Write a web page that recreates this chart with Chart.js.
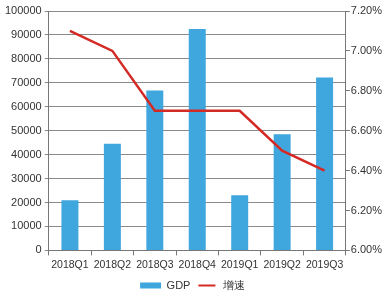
<!DOCTYPE html>
<html>
<head>
<meta charset="utf-8">
<script src="https://cdn.jsdelivr.net/npm/chart.js@4"></script>
<style>
  html, body { margin: 0; padding: 0; background: #fff; }
</style>
</head>
<body>
<canvas id="chart" width="389" height="301"></canvas>
<script>
var quarters = ["2018Q1", "2018Q2", "2018Q3", "2018Q4", "2019Q1", "2019Q2", "2019Q3"];
var gdp = [21000, 44500, 66800, 92500, 23000, 48500, 72200];
var growth = [7.1, 7.0, 6.7, 6.7, 6.7, 6.5, 6.4];

Chart.defaults.font.family = "'Liberation Sans', Arial, sans-serif";
Chart.defaults.font.size = 11;
Chart.defaults.color = "#333";

new Chart("chart", {
  data: {
    labels: quarters,
    datasets: [{
      type: "line",
      label: "增速",
      data: growth,
      yAxisID: "y2",
      borderColor: "#d42a25",
      backgroundColor: "#d42a25",
      borderWidth: 2.5,
      pointRadius: 0,
      tension: 0,
      order: 0
    }, {
      type: "bar",
      label: "GDP",
      data: gdp,
      yAxisID: "y",
      backgroundColor: "#40a6de",
      barPercentage: 0.4,
      categoryPercentage: 1,
      order: 1
    }]
  },
  options: {
    responsive: false,
    animation: false,
    layout: { padding: { top: 11, right: 6, bottom: 0, left: 2 } },
    scales: {
      x: {
        offset: true,
        grid: { offset: true, drawOnChartArea: false, color: "#777", tickLength: 5 },
        border: { color: "#777" },
        ticks: { padding: 3, maxRotation: 0, minRotation: 0, autoSkip: false, font: { size: 10.5 } }
      },
      y: {
        position: "left",
        min: 0,
        max: 100000,
        ticks: { stepSize: 10000, padding: 3, callback: function(v) { return String(v); } },
        grid: { color: "#8a8a8a", tickLength: 4 },
        border: { color: "#777" }
      },
      y2: {
        position: "right",
        min: 6.0,
        max: 7.2,
        ticks: {
          stepSize: 0.2,
          padding: 1,
          callback: function(v) { return v.toFixed(2) + "%"; }
        },
        grid: { drawOnChartArea: false, color: "#777", tickLength: 4 },
        border: { color: "#777" }
      }
    },
    plugins: {
      legend: {
        position: "bottom",
        reverse: true,
        labels: {
          boxWidth: 21,
          boxHeight: 6,
          padding: 6,
          color: "#333",
          generateLabels: function(chart) {
            var items = Chart.defaults.plugins.legend.labels.generateLabels(chart);
            items.forEach(function(it) {
              if (it.text === "增速") {
                it.strokeStyle = "#fff";
                it.lineWidth = 4;
              } else {
                it.lineWidth = 0;
              }
            });
            return items;
          }
        }
      },
      tooltip: { enabled: false }
    }
  }
});
</script>
</body>
</html>
